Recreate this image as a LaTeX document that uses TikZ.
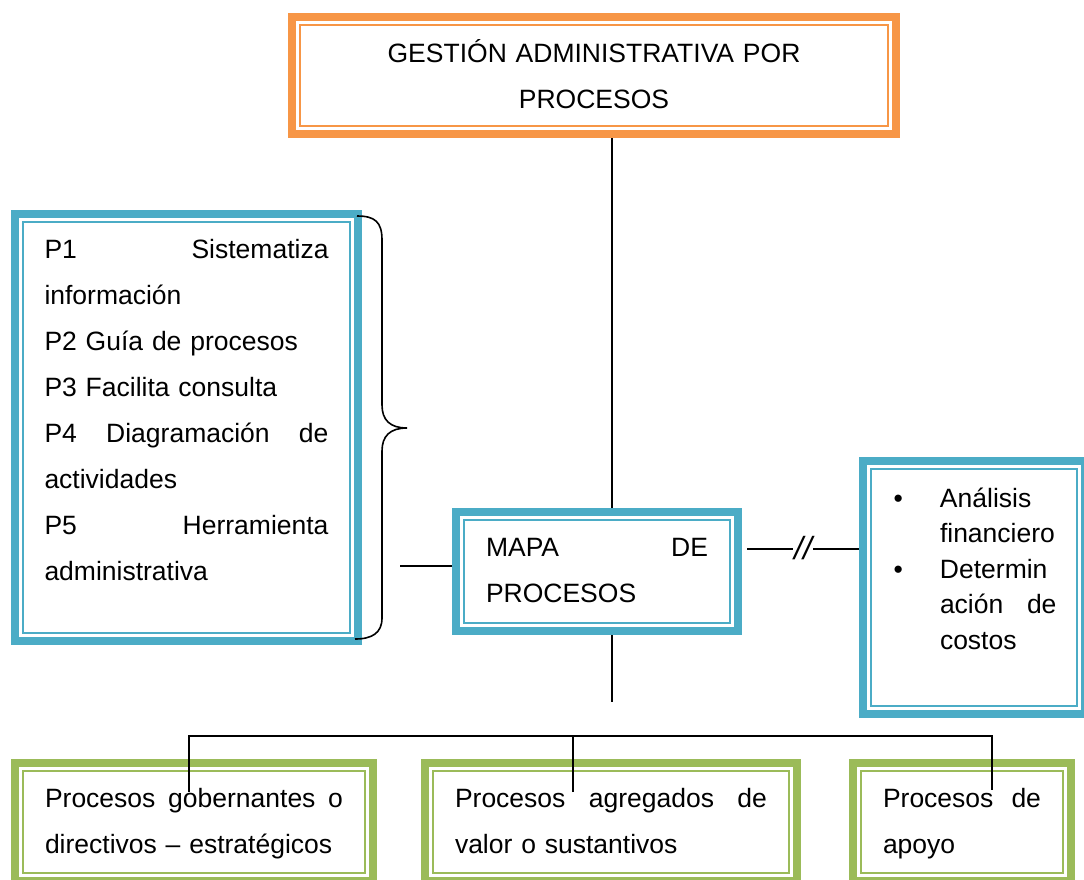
\documentclass[tikz,border=0pt]{standalone}
\usepackage{fontspec}
\setmainfont{Liberation Sans}
\definecolor{naranja}{HTML}{F79646}
\definecolor{azul}{HTML}{4BACC6}
\definecolor{verde}{HTML}{9BBB59}
\hyphenpenalty=10000
\begin{document}
\begin{tikzpicture}[x=1pt, y=-1pt,
    marco/.style={draw=#1, line width=8pt, inner sep=0pt, anchor=base, align=left,
      font=\fontsize{26.5}{46}\selectfont},
    linea/.style={line width=2pt}]
        \useasboundingbox (0,0) rectangle (1084,879);
        \clip (0,0) rectangle (1084,879);

        % cajas
        \node[marco=naranja, align=center, text width=560pt, minimum width=604pt,
          text height=45pt, text depth=72pt] (titulo) at (594,62)
          {GESTIÓN ADMINISTRATIVA POR\\PROCESOS};
        \node[marco=azul, text width=284pt, minimum width=343pt,
          text height=44pt, text depth=383pt] (lista) at (186.5,258)
          {P1\hfill Sistematiza\\ información\\ P2 Guía de procesos\\ P3 Facilita consulta\\
           P4\hfill Diagramación\hfill de\\ actividades\\ P5\hfill Herramienta\\ administrativa};
        \node[marco=azul, text width=165pt, minimum width=222pt,
          text height=46pt, text depth=207pt, font=\fontsize{26.5}{35.5}\selectfont] (analisis) at (974,507)
          {\makebox[48.5pt][l]{\hspace*{2pt}•}Análisis\\ \hspace*{48.5pt}financiero\\
           \makebox[48.5pt][l]{\hspace*{2pt}•}Determin\\ \hspace*{48.5pt}ación\hfill de\hspace*{2pt}\\ \hspace*{48.5pt}costos};
        \node[marco=azul, text width=222pt, minimum width=282pt,
          text height=44pt, text depth=75pt] (mapa) at (597,556)
          {MAPA\hfill DE\\ PROCESOS};
        \node[marco=verde, text width=298pt, minimum width=358pt,
          text height=44pt, text depth=74pt] (gobernantes) at (194,807)
          {Procesos\hfill gobernantes\hfill o\\ directivos – estratégicos};
        \node[marco=verde, text width=312pt, minimum width=372pt,
          text height=44pt, text depth=74pt] (sustantivos) at (611,807)
          {Procesos\hfill agregados\hfill de\\ valor o sustantivos};
        \node[marco=verde, text width=158pt, minimum width=218pt,
          text height=44pt, text depth=74pt] (apoyo) at (962,807)
          {Procesos\hfill de\\ apoyo};

        % linea fina interior
        \foreach \caja/\col in {titulo/naranja, lista/azul, mapa/azul, analisis/azul,
            gobernantes/verde, sustantivos/verde, apoyo/verde}
          \draw[\col, line width=2.3pt] ([shift={(12pt,-12pt)}]\caja.north west)
            rectangle ([shift={(-12pt,12pt)}]\caja.south east);

        % llave
        \draw[line width=1.6pt] (357,216) .. controls (375,216) and (382,222) .. (382,240)
          -- (382,405) .. controls (382,420) and (390,428) .. (407,428)
          .. controls (390,428) and (382,436) .. (382,451)
          -- (382,618) .. controls (382,633) and (372,639) .. (355,639);

        % conectores
        \coordinate (eje) at (612,0);
        \coordinate (ramal) at (612,702);
        \coordinate (llave) at (400,566);
        \coordinate (bus) at (573,736);
        \coordinate (baja-gob) at (189,792);
        \coordinate (baja-sus) at (573,792);
        \coordinate (baja-apo) at (992,790);
        \node[font=\fontsize{32}{34}\itshape, inner xsep=1pt, inner ysep=0pt] (corte) at (803,548) {//};

        \draw[linea] (titulo.south -| eje) -- (mapa.north -| eje);
        \draw[linea] (mapa.south -| eje) -- (ramal);
        \draw[linea] (llave) -- (llave -| mapa.west);
        \draw[linea, shorten <=5pt] (mapa.east |- 0,549) -- (corte.west |- 0,549);
        \draw[linea] (corte.east |- 0,549) -- (analisis.west |- 0,549);
        \draw[linea] (baja-gob) -- (baja-gob |- bus) -- (baja-apo |- bus) -- (baja-apo);
        \draw[linea] (baja-sus) -- (bus);
\end{tikzpicture}
\end{document}
